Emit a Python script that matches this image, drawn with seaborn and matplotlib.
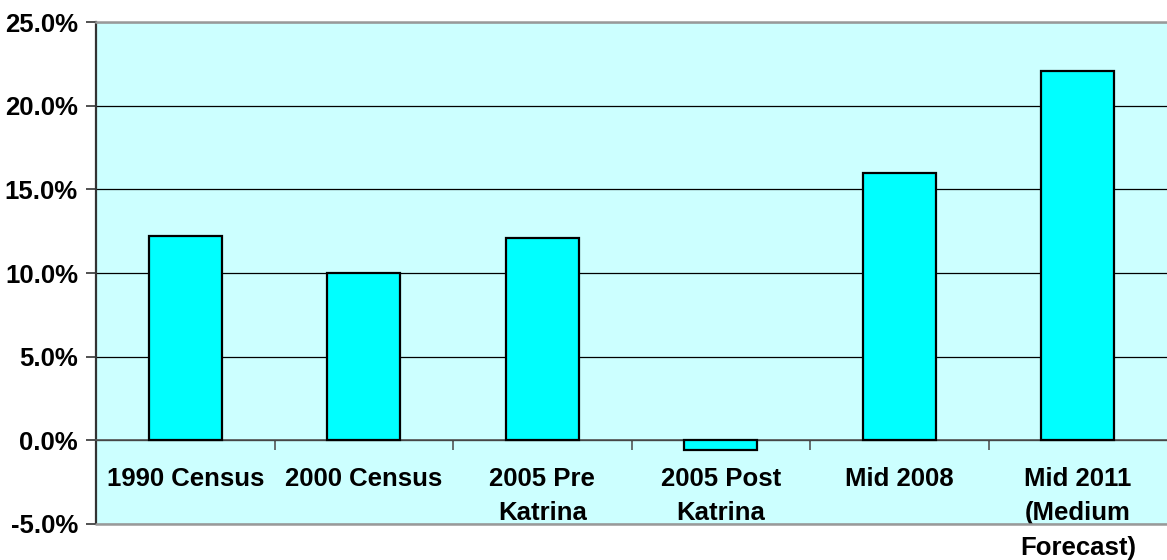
import numpy as np
import pandas as pd
import matplotlib
matplotlib.use("Agg")
from matplotlib import pyplot as plt
from matplotlib.ticker import FixedLocator, PercentFormatter
import seaborn as sns

categories = ["1990 Census", "2000 Census", "2005 Pre\nKatrina",
              "2005 Post\nKatrina", "Mid 2008", "Mid 2011\n(Medium\nForecast)"]
growth_pct = [12.2, 10.0, 12.1, -0.6, 16.0, 22.1]

df = pd.DataFrame({"period": categories, "growth": growth_pct})

sns.set_theme(style="white")
plt.rcParams["font.family"] = ["Liberation Sans", "DejaVu Sans"]
plt.rcParams["font.weight"] = "bold"
plt.rcParams["axes.unicode_minus"] = False

fig = plt.figure(figsize=(11.67, 5.6), dpi=100)
ax = fig.add_axes([0.0823, 0.0643, 0.9177, 0.8964])
ax.set_facecolor("#CCFFFF")

sns.barplot(data=df, x="period", y="growth", color="#00FFFF", saturation=1,
            width=0.41, edgecolor="black", linewidth=1.6, ax=ax, zorder=3)

ax.set_ylim(-5, 25)
ax.set_xlim(-0.5, 5.5)
ax.set_yticks(np.arange(-5, 26, 5))
ax.yaxis.set_major_formatter(PercentFormatter(decimals=1))
ax.set_axisbelow(True)
ax.yaxis.grid(True, color="black", linewidth=0.9)
ax.xaxis.grid(False)

# x axis line sits at zero
ax.spines["bottom"].set_position(("data", 0))
ax.spines["bottom"].set_color("#555555")
ax.spines["bottom"].set_linewidth(1.2)
ax.spines["left"].set_color("#333333")
ax.spines["left"].set_linewidth(1.6)
ax.spines["top"].set_color("#999999")
ax.spines["top"].set_linewidth(1.8)
ax.spines["right"].set_visible(False)
ax.axhline(-5, color="#999999", linewidth=1.8, clip_on=False, zorder=4)

ax.tick_params(axis="x", which="major", length=0, pad=19, labelsize=18.5,
               labelcolor="black")
ax.xaxis.set_minor_locator(FixedLocator([0.5, 1.5, 2.5, 3.5, 4.5]))
ax.tick_params(axis="x", which="minor", length=7, direction="out",
               color="#555555", width=1.2, bottom=True)
ax.tick_params(axis="y", length=7, direction="out", color="#333333",
               width=1.2, left=True, labelsize=18.5, pad=6, labelcolor="black")
for lab in ax.get_xticklabels():
    lab.set_linespacing(1.55)
    lab.set_fontweight("bold")
for lab in ax.get_yticklabels():
    lab.set_fontweight("bold")

ax.set(xlabel="", ylabel="")

plt.savefig("out.png", dpi=100)
